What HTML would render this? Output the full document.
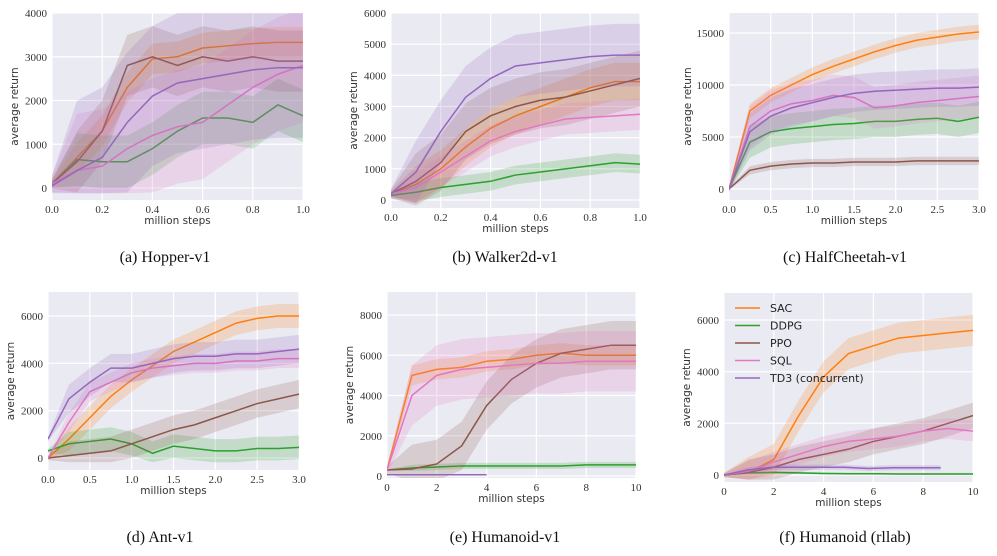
<!DOCTYPE html>
<html><head><meta charset="utf-8">
<style>
body{margin:0;background:#fff;width:997px;height:556px;overflow:hidden}
svg{display:block}
.tick{font-family:"Liberation Serif",serif;font-size:11px;fill:#333}
.alab{font-family:"DejaVu Sans","Liberation Sans",sans-serif;font-size:10.5px;fill:#333}
.cap{font-family:"Liberation Serif",serif;font-size:16px;fill:#111}
.leg{font-family:"DejaVu Sans","Liberation Sans",sans-serif;font-size:11px;fill:#222}
</style></head><body>
<svg id="fig" width="997" height="556"></svg>
<script>
const seriesNames=["SAC","DDPG","PPO","SQL","TD3 (concurrent)"];
const colors=["#ff7f0e","#2ca02c","#8c564b","#e377c2","#9467bd"];
// panel a: Hopper-v1
const aSAC=[100,700,1300,2300,2950,3000,3200,3250,3300,3330,3330];
const aDDPG=[100,650,600,600,900,1300,1600,1600,1500,1900,1650];
const aPPO=[100,600,1300,2800,3000,2800,3000,2900,3000,2900,2900];
const aSQL=[100,400,500,900,1200,1400,1500,1900,2300,2600,2800];
const aTD3=[50,400,700,1500,2100,2400,2500,2600,2700,2750,2750];
// panel b: Walker2d-v1
const bSAC=[200,500,1000,1700,2300,2700,3000,3300,3600,3800,3800];
const bDDPG=[150,250,400,500,600,800,900,1000,1100,1200,1150];
const bPPO=[200,600,1200,2200,2700,3000,3200,3300,3500,3700,3900];
const bSQL=[200,400,900,1400,1900,2200,2400,2600,2650,2700,2750];
const bTD3=[200,900,2200,3300,3900,4300,4400,4500,4600,4650,4650];
// panel c: HalfCheetah-v1
const cSAC=[0,7500,9000,10000,11000,11800,12500,13200,13800,14300,14600,14900,15100];
const cDDPG=[0,4500,5500,5800,6000,6200,6300,6500,6500,6700,6800,6500,6900];
const cPPO=[0,1800,2200,2400,2500,2500,2600,2600,2600,2700,2700,2700,2700];
const cSQL=[0,6000,7500,8200,8500,9000,8800,7800,8000,8300,8500,8700,8900];
const cTD3=[0,5500,7000,7800,8300,8800,9200,9400,9500,9600,9700,9700,9800];
// panel d: Ant-v1
const dSAC=[0,800,1700,2600,3300,3900,4500,4900,5300,5700,5900,6000,6000];
const dDDPG=[300,600,700,800,600,200,500,400,300,300,400,400,450];
const dPPO=[0,100,200,300,600,900,1200,1400,1700,2000,2300,2500,2700];
const dSQL=[0,1500,2800,3200,3600,3800,3900,4000,4000,4100,4100,4200,4200];
const dTD3=[800,2500,3200,3800,3800,4000,4200,4300,4300,4400,4400,4500,4600];
// panel e: Humanoid-v1
const eSAC=[300,5000,5300,5400,5700,5800,6000,6100,6000,6000,6000];
const eDDPG=[300,400,450,500,500,500,500,500,550,550,550];
const ePPO=[300,350,600,1500,3500,4800,5600,6100,6300,6500,6500];
const eSQL=[300,4000,5000,5300,5400,5500,5600,5600,5700,5700,5700];
const eTD3=[60,60,60,60,60];
// panel f: Humanoid (rllab)
const fSAC=[0,100,600,2300,3800,4700,5000,5300,5400,5500,5600];
const fDDPG=[0,80,100,80,60,50,50,40,40,40,40];
const fPPO=[0,100,300,600,800,1000,1300,1500,1700,2000,2300];
const fSQL=[0,150,500,800,1100,1300,1400,1500,1700,1800,1700];
const fTD3=[0,200,300,300,300,300,250,280,280,280];
const aTicksX=[0,0.2,0.4,0.6,0.8,1.0], aTicksY=[0,1000,2000,3000,4000];
const bTicksY=[0,1000,2000,3000,4000,5000,6000];
const cTicksX=[0,0.5,1.0,1.5,2.0,2.5,3.0], cTicksY=[0,5000,10000,15000];
const dTicksY=[0,2000,4000,6000];
const eTicksX=[0,2,4,6,8,10], eTicksY=[0,2000,4000,6000,8000];
const fTicksY=[0,2000,4000,6000];

const panels=[
 {id:"hopper",cap:"(a)  Hopper-v1",L:52,R:303,T:13,B:200,x0:0,x1:1,y0:0,yPix0:188,yTop:4000,yPixTop:13,xt:aTicksX,yt:aTicksY,dec:1,
  s:[aSAC,aDDPG,aPPO,aSQL,aTD3],ends:[1,1,1,1,1],sp:[350,600,700,1300,1600],capX:165,capY:262},
 {id:"walker",cap:"(b)  Walker2d-v1",L:391,R:640,T:13,B:208,x0:0,x1:1,yPix0:200,yTop:6000,yPixTop:13,xt:aTicksX,yt:bTicksY,dec:1,
  s:[bSAC,bDDPG,bPPO,bSQL,bTD3],ends:[1,1,1,1,1],sp:[600,300,900,500,1000],capX:505,capY:262},
 {id:"halfcheetah",cap:"(c)  HalfCheetah-v1",L:729,R:979,T:13,B:200,x0:0,x1:3,yPix0:189,yTop:15000,yPixTop:33,xt:cTicksX,yt:cTicksY,dec:1,
  s:[cSAC,cDDPG,cPPO,cSQL,cTD3],ends:[3,3,3,3,3],sp:[700,1500,400,2000,1800],capX:845,capY:262},
 {id:"ant",cap:"(d)  Ant-v1",L:48,R:299,T:292,B:470,x0:0,x1:3,yPix0:458,yTop:6000,yPixTop:316,xt:cTicksX,yt:dTicksY,dec:1,
  s:[dSAC,dDDPG,dPPO,dSQL,dTD3],ends:[3,3,3,3,3],sp:[500,500,600,400,600],capX:160,capY:542},
 {id:"humanoid",cap:"(e)  Humanoid-v1",L:387,R:636,T:292,B:478,x0:0,x1:10,yPix0:476,yTop:8000,yPixTop:315,xt:eTicksX,yt:eTicksY,dec:0,
  s:[eSAC,eDDPG,ePPO,eSQL,eTD3],ends:[10,10,10,10,4],sp:[500,150,1200,1500,30],capX:505,capY:542},
 {id:"humanoid-rllab",cap:"(f)  Humanoid (rllab)",L:724,R:973,T:293,B:482,x0:0,x1:10,yPix0:475,yTop:6000,yPixTop:320,xt:eTicksX,yt:fTicksY,dec:0,
  s:[fSAC,fDDPG,fPPO,fSQL,fTD3],ends:[10,10,10,10,8.7],sp:[600,40,500,400,100],capX:845,capY:542,legend:true}
];
const NS="http://www.w3.org/2000/svg";
const fig=document.getElementById("fig");
function mk(tag,attrs,parent){const e=document.createElementNS(NS,tag);for(const k in attrs)e.setAttribute(k,attrs[k]);(parent||fig).appendChild(e);return e;}
panels.forEach(p=>{
 const g=mk("g",{});
 
 
 const xs=v=>p.L+(v-p.x0)/(p.x1-p.x0)*(p.R-p.L);
 const ys=v=>p.yPix0+(v/p.yTop)*(p.yPixTop-p.yPix0);
 const bg=mk("rect",{x:p.L,y:p.T,width:p.R-p.L,height:p.B-p.T,fill:"#eaeaf2"},g);
 
 
 p.xt.forEach(t=>{const X=xs(t);
  mk("line",{x1:X,x2:X,y1:p.T,y2:p.B,stroke:"#fff","stroke-width":1.2},g);
  const tx=mk("text",{x:X,y:p.B+13,"text-anchor":"middle",class:"tick"},g);tx.textContent=t.toFixed(p.dec);
  
  
 });
 p.yt.forEach(t=>{const Y=ys(t);
  mk("line",{x1:p.L,x2:p.R,y1:Y,y2:Y,stroke:"#fff","stroke-width":1.2},g);
  const tx=mk("text",{x:p.L-5,y:Y+4,"text-anchor":"end",class:"tick"},g);tx.textContent=t;
  
  
 });
 const xl=mk("text",{x:(p.L+p.R)/2,y:p.B+24,"text-anchor":"middle",class:"alab"},g);xl.textContent="million steps";
 
 
 const yx=p.L-(p.yTop>=10000?38:34), ym=(p.T+p.B)/2;
 const yl=mk("text",{x:yx,y:ym,"text-anchor":"middle",class:"alab",transform:`rotate(-90 ${yx} ${ym})`},g);yl.textContent="average return";
 
 
 const cp=mk("clipPath",{id:"c"+p.id},g);mk("rect",{x:p.L,y:p.T,width:p.R-p.L,height:p.B-p.T},cp);
 const sg=mk("g",{"clip-path":`url(#c${p.id})`},g);
 p.s.forEach((vals,i)=>{
  const n=vals.length,end=p.ends[i];
  const px=vals.map((v,k)=>xs(p.x0+k*(end-p.x0)/(n-1)));
  const f=k=>k===0?0.15:1;
  const up=vals.map((v,k)=>px[k]+","+ys(v+p.sp[i]*f(k)));
  const lo=vals.map((v,k)=>px[k]+","+ys(Math.max(v-p.sp[i]*f(k),p.yTop*-0.03))).reverse();
  const band=mk("polygon",{points:up.concat(lo).join(" "),fill:colors[i],"fill-opacity":0.2},sg);
  
  
  const ln=mk("polyline",{points:vals.map((v,k)=>px[k]+","+ys(v)).join(" "),fill:"none",stroke:colors[i],"stroke-width":1.5},sg);
  
  
 });
 const cap=mk("text",{x:p.capX,y:p.capY,"text-anchor":"middle",class:"cap"},g);cap.textContent=p.cap;
 
 
 if(p.legend){
  seriesNames.forEach((nm,i)=>{const Y=308+i*17.5;
   const lg=mk("g",{},g);
   
   
   mk("line",{x1:735,x2:760,y1:Y,y2:Y,stroke:colors[i],"stroke-width":1.5},lg);
   const t=mk("text",{x:770,y:Y+4,class:"leg"},lg);t.textContent=nm;
  });
 }
});
</script>
</body></html>
